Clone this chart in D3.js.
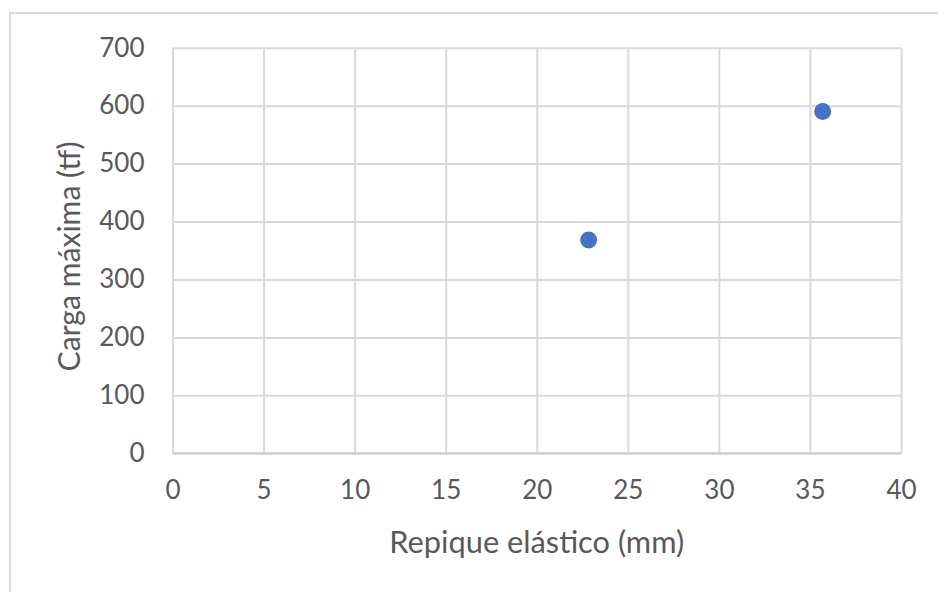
<!DOCTYPE html>
<html>
<head>
<meta charset="utf-8">
<script src="https://cdn.jsdelivr.net/npm/d3@7"></script>
<style>
  html, body { margin: 0; padding: 0; background: #ffffff; }
  svg { display: block; }
  text { font-family: Lato, "Open Sans", sans-serif; fill: #595959; }
</style>
</head>
<body>
<svg id="chart" width="938" height="592"></svg>
<script>
// Pile test results: elastic rebound vs. maximum load
const repique = [22.85, 35.7];        // mm
const cargaMax = [368, 590];          // tf
const xTicks = [0, 5, 10, 15, 20, 25, 30, 35, 40];
const yTicks = [0, 100, 200, 300, 400, 500, 600, 700];
const xTitle = "Repique elástico (mm)";
const yTitle = "Carga máxima (tf)";

const points = repique.map((x, i) => ({ x, y: cargaMax[i] }));

const W = 938, H = 592;
const plot = { left: 172.5, right: 901, top: 47.7, bottom: 453.3 };
const tickFont = 26;

const svg = d3.select("#chart");

// chart frame
svg.append("rect")
  .attr("x", 10).attr("y", 13)
  .attr("width", W + 20).attr("height", H + 20)
  .attr("fill", "#ffffff")
  .attr("stroke", "#d9d9d9")
  .attr("stroke-width", 2);

const x = d3.scaleLinear().domain([0, 40]).range([plot.left, plot.right]);
const y = d3.scaleLinear().domain([0, 700]).range([plot.bottom, plot.top]);

// vertical gridlines + x tick labels
const xAxis = d3.axisBottom(x)
  .tickValues(xTicks)
  .tickSize(-(plot.bottom - plot.top))
  .tickPadding(46)
  .tickFormat(d3.format("d"));

const gx = svg.append("g")
  .attr("transform", `translate(0,${plot.bottom})`)
  .call(xAxis);
gx.select(".domain").remove();
gx.selectAll(".tick line").attr("stroke", "#d9d9d9").attr("stroke-width", 2);
gx.selectAll(".tick text")
  .attr("font-size", tickFont)
  .attr("dy", "0")
  .style("font-family", "Lato, 'Open Sans', sans-serif")
  .attr("fill", "#595959");

// horizontal gridlines + y tick labels
const yAxis = d3.axisLeft(y)
  .tickValues(yTicks)
  .tickSize(-(plot.right - plot.left))
  .tickPadding(28)
  .tickFormat(d3.format("d"));

const gy = svg.append("g")
  .attr("transform", `translate(${plot.left},0)`)
  .call(yAxis);
gy.select(".domain").remove();
gy.selectAll(".tick line").attr("stroke", "#d9d9d9").attr("stroke-width", 2);
gy.selectAll(".tick text")
  .attr("font-size", tickFont)
  .style("font-family", "Lato, 'Open Sans', sans-serif")
  .attr("fill", "#595959");

// bottom axis line
svg.append("line")
  .attr("x1", plot.left).attr("x2", plot.right)
  .attr("y1", plot.bottom).attr("y2", plot.bottom)
  .attr("stroke", "#cccccc").attr("stroke-width", 2);

// markers
svg.append("g")
  .selectAll("circle")
  .data(points)
  .join("circle")
  .attr("cx", d => x(d.x))
  .attr("cy", d => y(d.y))
  .attr("r", 8.5)
  .attr("fill", "#4472C4");

// sizes a title so that it spans the given length
function fitText(sel, length) {
  sel.attr("font-size", 30);
  const w = sel.node().getComputedTextLength();
  sel.attr("font-size", 30 * length / w);
}

// axis titles
const xt = svg.append("text")
  .attr("x", (plot.left + plot.right) / 2)
  .attr("y", 553)
  .attr("text-anchor", "middle")
  .text(xTitle);
fitText(xt, 295);

const yt = svg.append("text")
  .attr("transform", `translate(80,${(plot.top + plot.bottom) / 2 + 6}) rotate(-90)`)
  .attr("text-anchor", "middle")
  .text(yTitle);
fitText(yt, 230);
</script>
</body>
</html>
